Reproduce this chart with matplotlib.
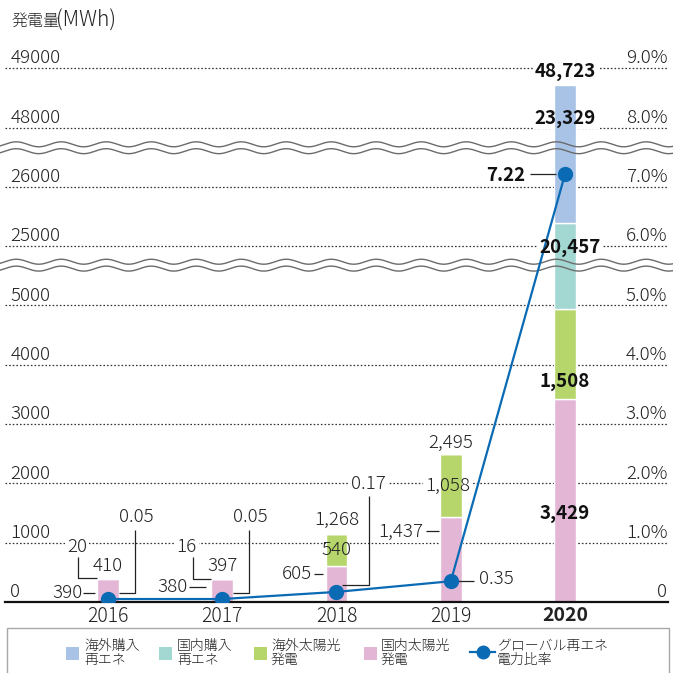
import numpy as np
import matplotlib
matplotlib.use("Agg")
import matplotlib.pyplot as plt
from matplotlib.patches import Rectangle
from matplotlib.lines import Line2D
from matplotlib.transforms import blended_transform_factory

plt.rcParams["font.family"] = ["Noto Sans CJK JP", "DejaVu Sans"]

# --- data -------------------------------------------------------------
years = ["2016", "2017", "2018", "2019", "2020"]
domestic_solar = [390, 380, 605, 1437, 3429]      # 国内太陽光発電
overseas_solar = [20, 16, 540, 1058, 1508]        # 海外太陽光発電
domestic_purchase = [0, 0, 0, 0, 20457]           # 国内購入再エネ
overseas_purchase = [0, 0, 0, 0, 23329]           # 海外購入再エネ
bar_totals = [410, 397, 1268, 2495, 48723]
renewable_ratio = [0.05, 0.05, 0.17, 0.35, 7.22]  # グローバル再エネ電力比率 (%)

left_ticks = [1000, 2000, 3000, 4000, 5000, 25000, 26000, 48000, 49000]
right_ticks = [1, 2, 3, 4, 5, 6, 7, 8, 9]

# broken axis: MWh value -> evenly spaced band position
VAL_BREAKS = [0, 5000, 25000, 26000, 48000, 49000]
POS_BREAKS = [0, 5, 6, 7, 8, 9]

C_OVS_PUR = "#A9C3E7"
C_DOM_PUR = "#A3D8D2"
C_OVS_SOL = "#B6D66C"
C_DOM_SOL = "#E3B6D6"
C_LINE = "#0A6AB4"
TXT = "#222222"
NUM_SIZE = 13.5
LIGHT = "light"


def fwd(v):
    v = np.asarray(v, dtype=float)
    out = np.interp(v, VAL_BREAKS, POS_BREAKS)
    out = np.where(v > VAL_BREAKS[-1], POS_BREAKS[-1] + (v - VAL_BREAKS[-1]) / 1000, out)
    return np.where(v < 0, v / 1000, out)


def inv(p):
    p = np.asarray(p, dtype=float)
    out = np.interp(p, POS_BREAKS, VAL_BREAKS)
    out = np.where(p > POS_BREAKS[-1], VAL_BREAKS[-1] + (p - POS_BREAKS[-1]) * 1000, out)
    return np.where(p < 0, p * 1000, out)


W = 673.0
fig = plt.figure(figsize=(6.73, 6.73), dpi=100)
top_pos = 9.477
ax = fig.add_axes([5 / W, 1 - 602 / W, 663 / W, (602 - 40) / W])
ax.set_yscale("function", functions=(fwd, inv))
ax.set_ylim(0, float(inv(top_pos)))
ax.set_xlim(-0.9, 4.9)
ax2 = ax.twinx()
ax2.set_ylim(0, top_pos)

for a in (ax, ax2):
    for s in ("top", "left", "right"):
        a.spines[s].set_visible(False)
    a.set_yticks([])
    a.tick_params(axis="y", length=0)
ax2.spines["bottom"].set_visible(False)
ax.spines["bottom"].set_linewidth(1.6)
ax.spines["bottom"].set_color("#111111")

ax.set_xticks(range(len(years)), labels=years)
ax.tick_params(axis="x", length=0, pad=3, labelsize=14, labelcolor=TXT)
for t in ax.get_xticklabels():
    t.set_fontweight(LIGHT)
ax.get_xticklabels()[-1].set_fontweight("bold")

# dotted gridlines + tick labels sitting on them
for v in left_ticks:
    ax.axhline(v, color="#333333", lw=0.9, ls=(0, (1.3, 1.6)), zorder=1)
lab_tf = blended_transform_factory(ax.transAxes, ax.transData)
for v in [0] + left_ticks:
    ax.annotate(str(v), xy=(0.008, v), xycoords=lab_tf, xytext=(0, 3.5),
                textcoords="offset points", ha="left", va="baseline",
                fontsize=NUM_SIZE, fontweight=LIGHT, color=TXT)
lab_tf2 = blended_transform_factory(ax2.transAxes, ax2.transData)
for p in [0] + right_ticks:
    s = "0" if p == 0 else f"{p:.1f}%"
    ax2.annotate(s, xy=(0.999, p), xycoords=lab_tf2, xytext=(0, 3.5),
                 textcoords="offset points", ha="right", va="baseline",
                 fontsize=NUM_SIZE, fontweight=LIGHT, color=TXT)

# stacked bars
x = np.arange(len(years))
bw = 0.19
bottom = np.zeros(len(years))
for vals, col in [(domestic_solar, C_DOM_SOL), (overseas_solar, C_OVS_SOL),
                  (domestic_purchase, C_DOM_PUR), (overseas_purchase, C_OVS_PUR)]:
    ax.bar(x, vals, bw, bottom=bottom, color=col, edgecolor="white",
           linewidth=1.0, zorder=2)
    bottom = bottom + np.array(vals)

# wavy axis breaks
wx = np.linspace(-5 / 663, 668 / 663, 800)
wave = 0.042 * np.sin(2 * np.pi * wx * 663 / 45)
wave_tf = blended_transform_factory(ax2.transAxes, ax2.transData)
for yc in (7.66, 5.68):
    for dy in (-0.058, 0.058):
        ax.plot(wx, yc + dy + wave, color="#6b6b6b", lw=1.0, transform=wave_tf,
                clip_on=False, zorder=3)

# renewable ratio line
ax2.plot(x, renewable_ratio, color=C_LINE, lw=1.6, marker="o", ms=10,
         mec=C_LINE, mfc=C_LINE, zorder=5)


def label(xp, yp, s, ha="center", bold=False, mask=True):
    kw = dict(ha=ha, va="center", fontsize=NUM_SIZE,
              fontweight="bold" if bold else LIGHT)
    if mask:
        ax.text(xp, yp, s, color="none", transform=ax2.transData, zorder=1.5,
                bbox=dict(boxstyle="square,pad=0.1", fc="white", ec="none"), **kw)
    ax2.text(xp, yp, s, color=TXT if not bold else "#111111", zorder=6, **kw)


def leader(xs, ys):
    ax2.plot(xs, ys, color="#222222", lw=0.9, zorder=4, solid_capstyle="butt")


fmt = lambda v: f"{v:,}"
hb = bw / 2

# 2016 / 2017
for i, dx_top, dx_side in [(0, -0.258, 0.240), (1, -0.258, 0.235)]:
    seg_mid = float(fwd(domestic_solar[i] + overseas_solar[i] / 2))
    leader([i + dx_top, i + dx_top, i - hb], [0.76, seg_mid, seg_mid])
    leader([i + hb, i + dx_side, i + dx_side], [0.152, 0.152, 1.21])
    label(i + dx_side + 0.01, 1.43, f"{renewable_ratio[i]:.2f}")
    label(i, 0.61, fmt(bar_totals[i]))
label(-0.27, 0.93, fmt(overseas_solar[0]))
label(1 - 0.31, 0.93, fmt(overseas_solar[1]))
label(-0.223, 0.15, fmt(domestic_solar[0]), ha="right")
leader([-0.214, -0.109], [0.152, 0.152])
label(1 - 0.30, 0.25, fmt(domestic_solar[1]), ha="right")
leader([1 - 0.293, 1 - 0.144], [0.25, 0.25])

# 2018
label(2 - 0.21, 0.47, fmt(domestic_solar[2]), ha="right")
leader([2 - 0.20, 2 - 0.12], [0.48, 0.48])
label(2, 0.88, fmt(overseas_solar[2]), mask=False)
label(2, 1.38, fmt(bar_totals[2]))
leader([2 + 0.05, 2 + 0.288, 2 + 0.288], [0.287, 0.287, 1.79])
label(2 + 0.28, 1.99, f"{renewable_ratio[2]:.2f}")

# 2019
label(3 - 0.236, 1.18, fmt(domestic_solar[3]), ha="right")
leader([3 - 0.22, 3 - 0.105], [1.19, 1.19])
label(3 - 0.03, 1.96, fmt(overseas_solar[3]))
label(3, 2.68, fmt(bar_totals[3]))
leader([3 + 0.06, 3 + 0.20], [renewable_ratio[3], renewable_ratio[3]])
label(3 + 0.245, 0.38, f"{renewable_ratio[3]:.2f}", ha="left", mask=False)

# 2020
label(4, 1.50, fmt(domestic_solar[4]), bold=True, mask=False)
label(4, 3.71, fmt(overseas_solar[4]), bold=True, mask=False)
label(4 + 0.04, 5.97, fmt(domestic_purchase[4]), bold=True)
label(4, 8.16, fmt(overseas_purchase[4]), bold=True)
label(4, 8.94, fmt(bar_totals[4]), bold=True)
label(4 - 0.35, 7.20, f"{renewable_ratio[4]:.2f}", ha="right", bold=True, mask=False)
leader([4 - 0.306, 4 - 0.079], [renewable_ratio[4], renewable_ratio[4]])

# title: kanji and unit set separately, the unit runs larger
fig.text(11 / W, 1 - 21 / W, "発電量", ha="left", va="center",
         fontsize=11.5, fontweight=LIGHT, color=TXT)
fig.text(56 / W, 1 - 21 / W, "(MWh)", ha="left", va="center",
         fontsize=15, fontweight=LIGHT, color=TXT)


# legend box along the bottom
def fx(px):
    return px / W


def fy(py):
    return 1 - py / W


fig.patches.append(Rectangle((fx(7), fy(700)), fx(662), 72 / W, transform=fig.transFigure,
                             fill=False, ec="#a8a8a8", lw=1.0, clip_on=False))
legend_items = [
    (66, 84, C_OVS_PUR, "海外購入\n再エネ"),
    (159, 177, C_DOM_PUR, "国内購入\n再エネ"),
    (254, 271, C_OVS_SOL, "海外太陽光\n発電"),
    (364, 381, C_DOM_SOL, "国内太陽光\n発電"),
]
for px, tx, col, txt in legend_items:
    fig.patches.append(Rectangle((fx(px), fy(660)), 13 / W, 13 / W,
                                 transform=fig.transFigure, fc=col, ec="none"))
    fig.text(fx(tx), fy(653), txt, ha="left", va="center", fontsize=10,
             fontweight=LIGHT, color=TXT, linespacing=1.0)
fig.lines.append(Line2D([fx(470), fx(495)], [fy(652), fy(652)], transform=fig.transFigure,
                        color=C_LINE, lw=1.6))
fig.lines.append(Line2D([fx(482.5)], [fy(652)], transform=fig.transFigure, marker="o",
                        ms=9, color=C_LINE))
fig.text(fx(497), fy(653), "グローバル再エネ\n電力比率", ha="left", va="center",
         fontsize=10, fontweight=LIGHT, color=TXT, linespacing=1.0)

fig.savefig("out.png", dpi=100, facecolor="white")
